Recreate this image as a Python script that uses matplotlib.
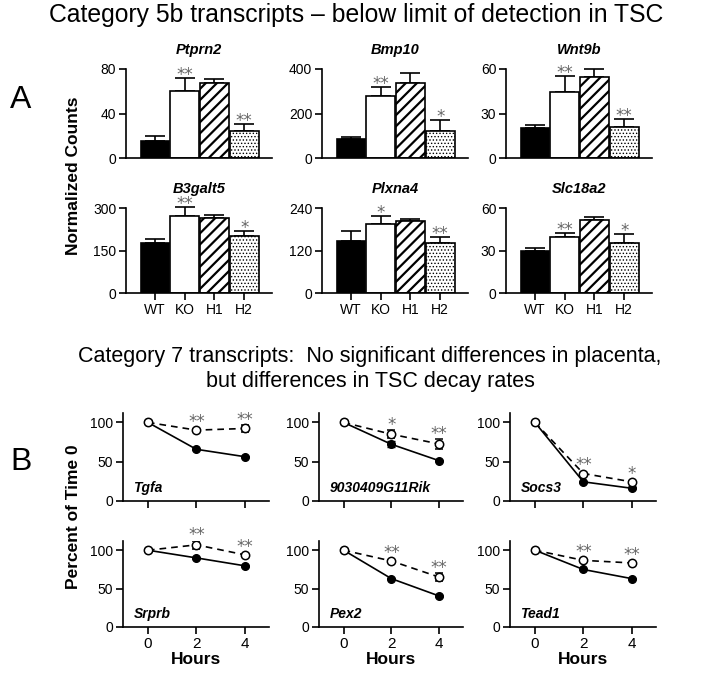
import matplotlib
matplotlib.use('Agg')
import matplotlib.pyplot as plt

plt.rcParams['font.family'] = ['Liberation Sans', 'DejaVu Sans']

# ---------------- data: panel A ----------------
groups = ['WT', 'KO', 'H1', 'H2']
bar_genes = ['Ptprn2', 'Bmp10', 'Wnt9b', 'B3galt5', 'Plxna4', 'Slc18a2']
ptprn2_mean = [15, 60, 67, 24]
ptprn2_err = [5, 12, 4, 7]
bmp10_mean = [85, 277, 335, 123]
bmp10_err = [11, 42, 45, 46]
wnt9b_mean = [20, 44.7, 54.8, 20.8]
wnt9b_err = [2.4, 10.7, 5, 5.4]
b3galt5_mean = [176, 273, 264, 200]
b3galt5_err = [15, 31, 10, 19]
plxna4_mean = [146, 195, 202, 142]
plxna4_err = [28, 23, 6, 16]
slc18a2_mean = [29.7, 39.4, 51.4, 35.3]
slc18a2_err = [2, 2.9, 2.5, 6.6]
bar_means = [ptprn2_mean, bmp10_mean, wnt9b_mean, b3galt5_mean, plxna4_mean, slc18a2_mean]
bar_errs = [ptprn2_err, bmp10_err, wnt9b_err, b3galt5_err, plxna4_err, slc18a2_err]
bar_stars = [['', '**', '', '**'], ['', '**', '', '*'], ['', '**', '', '**'],
             ['', '**', '', '*'], ['', '*', '', '**'], ['', '**', '', '*']]
bar_ticks = [[0, 40, 80], [0, 200, 400], [0, 30, 60],
             [0, 150, 300], [0, 120, 240], [0, 30, 60]]

# ---------------- data: panel B ----------------
hours = [0, 2, 4]
line_genes = ['Tgfa', '9030409G11Rik', 'Socs3', 'Srprb', 'Pex2', 'Tead1']
filled_vals = [[100, 65.8, 56.4], [100, 72.2, 51.3], [100, 24.4, 16.2],
               [100, 90, 79.7], [100, 63, 40.4], [100, 74.9, 63]]
filled_errs = [[0, 1, 1], [0, 4, 1], [0, 1, 1],
               [0, 1, 1], [0, 1, 1], [0, 1, 1]]
open_vals = [[100, 90.2, 92.3], [100, 85, 72.6], [100, 35, 24.4],
             [100, 107, 94], [100, 86, 65], [100, 86.8, 83.4]]
open_errs = [[0, 1, 4], [0, 5, 6], [0, 1, 1],
             [0, 5, 1], [0, 1, 5], [0, 1, 1]]
line_stars = [['', '**', '**'], ['', '*', '**'], ['', '**', '*'],
              ['', '**', '**'], ['', '**', '**'], ['', '**', '**']]
line_ticks_y = [0, 50, 100]

W, H = 710, 677
fig = plt.figure(figsize=(W / 100, H / 100), dpi=100)


def add_ax(left, top, right, bottom):
    return fig.add_axes([left / W, 1 - bottom / H, (right - left) / W, (bottom - top) / H])


def style(ax):
    for s in ['top', 'right']:
        ax.spines[s].set_visible(False)
    for s in ['left', 'bottom']:
        ax.spines[s].set_linewidth(1.2)
    ax.tick_params(width=1.2, length=5, labelsize=10, pad=2)


STAR_C = '#666666'


def stars(ax, x, y, s, off):
    ax.annotate(s, (x, y), xytext=(0, off), textcoords='offset points',
                ha='center', va='baseline', fontsize=12, color=STAR_C,
                family='DejaVu Sans', annotation_clip=False)


# ---------------- panel A ----------------
bar_cols = [(126, 272), (322, 468), (506, 652)]
bar_rows = [(69, 158), (208, 293)]
face = ['black', 'white', 'white', 'white']
hatches = [None, None, '///', '.....']

for i, gene in enumerate(bar_genes):
    r, c = divmod(i, 3)
    ax = add_ax(bar_cols[c][0], bar_rows[r][0], bar_cols[c][1], bar_rows[r][1])
    style(ax)
    means = bar_means[i]
    errs = bar_errs[i]
    ymax = bar_ticks[i][-1]
    xs = list(range(len(groups)))
    for x, m, f, h in zip(xs, means, face, hatches):
        lw_h = 1.6 if h == '///' else 0.6
        with plt.rc_context({'hatch.linewidth': lw_h}):
            ax.bar(x, m, width=0.96, color=f, edgecolor='black', linewidth=1.2,
                   hatch=h, zorder=2)
    ax.errorbar(xs, means, yerr=[[0] * 4, errs], fmt='none', ecolor='black',
                elinewidth=1.2, capsize=7, capthick=1.2, zorder=1, clip_on=False)
    for x, m, e, s in zip(xs, means, errs, bar_stars[i]):
        if s:
            stars(ax, x, m + e, s, -1.5)
    ax.set_ylim(0, ymax)
    ax.set_yticks(bar_ticks[i])
    ax.set_xlim(-0.97, 3.93)
    ax.set_title(gene, fontsize=10.5, fontweight='bold', fontstyle='italic', pad=11)
    if r == 1:
        ax.set_xticks(xs)
        ax.set_xticklabels(groups)
    else:
        ax.set_xticks([])

# ---------------- panel B ----------------
line_cols = [(123, 269), (319, 463), (510, 656)]
line_rows = [(413, 501), (541, 627)]
for i, gene in enumerate(line_genes):
    r, c = divmod(i, 3)
    ax = add_ax(line_cols[c][0], line_rows[r][0], line_cols[c][1], line_rows[r][1])
    style(ax)
    ax.errorbar(hours, filled_vals[i], yerr=filled_errs[i], fmt='-o', color='black',
                mfc='black', mec='black', ms=5.5, lw=1.2, capsize=3, elinewidth=1, zorder=2)
    ax.errorbar(hours, open_vals[i], yerr=open_errs[i], fmt='o', color='black',
                mfc='white', mec='black', ms=6, mew=1.1, capsize=3, elinewidth=1, zorder=3)
    ax.plot(hours, open_vals[i], '--', color='black', lw=1.2, dashes=(4, 3), zorder=2)
    for x, v, e, s in zip(hours, open_vals[i], open_errs[i], line_stars[i]):
        if s:
            stars(ax, x, v + max(e, 3), s, 0.5)
    ax.set_ylim(0, 112)
    ax.set_yticks(line_ticks_y)
    ax.set_xlim(-1.03, 5)
    ax.set_xticks(hours)
    ax.text(-0.6, 8, gene, fontsize=10, fontweight='bold', fontstyle='italic',
            ha='left', va='bottom')
    if r == 1:
        ax.tick_params(axis='x', labelsize=11)
        ax.set_xlabel('Hours', fontsize=12.5, fontweight='bold', labelpad=1)
    else:
        ax.tick_params(axis='x', labelbottom=False)

# ---------------- figure texts ----------------
fig.text(356 / W, 1 - 15 / H, 'Category 5b transcripts \u2013 below limit of detection in TSC',
         ha='center', va='center', fontsize=17.8)
fig.text(370 / W, 1 - 369 / H,
         'Category 7 transcripts:  No significant differences in placenta,\nbut differences in TSC decay rates',
         ha='center', va='center', fontsize=15.5, linespacing=1.25)
fig.text(21 / W, 1 - 100 / H, 'A', ha='center', va='center', fontsize=23)
fig.text(21 / W, 1 - 462 / H, 'B', ha='center', va='center', fontsize=23)
fig.text(74 / W, 1 - 176 / H, 'Normalized Counts', rotation=90, ha='center', va='center',
         fontsize=12.5, fontweight='bold')
fig.text(74 / W, 1 - 517 / H, 'Percent of Time 0', rotation=90, ha='center', va='center',
         fontsize=12.5, fontweight='bold')

fig.savefig('out.png', dpi=100)
